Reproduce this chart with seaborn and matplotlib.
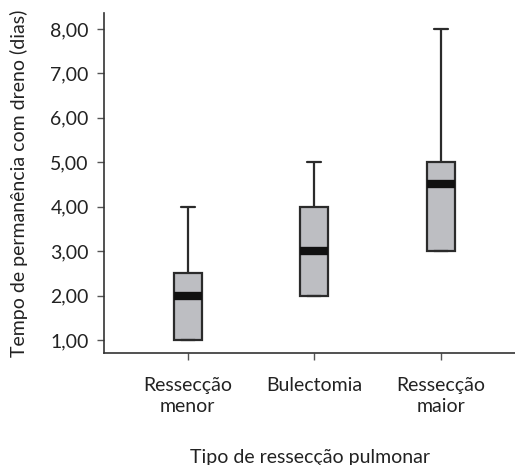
import numpy as np
import pandas as pd
import matplotlib
matplotlib.use("Agg")
import matplotlib.pyplot as plt
from matplotlib.ticker import FuncFormatter
import seaborn as sns

# Box statistics (min, Q1, median, Q3, max)
categories = ["Ressecção\nmenor", "Bulectomia", "Ressecção\nmaior"]
mins = [1.0, 2.0, 3.0]
q1s = [1.0, 2.0, 3.0]
medians = [2.0, 3.0, 4.5]
q3s = [2.5, 4.0, 5.0]
maxs = [4.0, 5.0, 8.0]

# five points per group reproduce exactly these quartiles
rows = []
for cat, a, b, c, d, e in zip(categories, mins, q1s, medians, q3s, maxs):
    for v in (a, b, c, d, e):
        rows.append({"tipo": cat, "dias": v})
df = pd.DataFrame(rows)

sns.set_style("white")
plt.rcParams["font.family"] = ["Lato", "DejaVu Sans"]

fig = plt.figure(figsize=(5.15, 4.65), dpi=100)
ax = fig.add_axes([0.202, 0.241, 0.798, 0.731])

edge = "#2b2b2b"
sns.boxplot(data=df, x="tipo", y="dias", order=categories, ax=ax,
            whis=(0, 100), width=0.22, color="#bdbec2", linecolor=edge,
            linewidth=1.6, saturation=1,
            medianprops={"color": "#111111", "linewidth": 6, "solid_capstyle": "butt"},
            boxprops={"edgecolor": edge, "facecolor": "#bdbec2"},
            whiskerprops={"color": edge}, capprops={"color": edge})

ax.set_ylim(0.707, 8.36)
ax.set_xlim(-0.66, 2.585)
ax.set_yticks(range(1, 9))
ax.yaxis.set_major_formatter(FuncFormatter(lambda v, p: f"{v:.2f}".replace(".", ",")))

sns.despine(ax=ax)
for s in ("left", "bottom"):
    ax.spines[s].set_color("#333333")
    ax.spines[s].set_linewidth(1.2)
ax.tick_params(axis="both", which="major", direction="out", length=5, width=1,
               color="#555555", labelsize=14, labelcolor="#222222", pad=6,
               left=True, bottom=True)
ax.tick_params(axis="x", pad=12)
for lbl in ax.get_xticklabels():
    lbl.set_linespacing(1.35)

ax.set_xlabel("Tipo de ressecção pulmonar", fontsize=14, color="#222222", labelpad=24)
ax.set_ylabel("Tempo de permanência com dreno (dias)", fontsize=14, color="#222222", labelpad=16)

fig.savefig("out.png", dpi=100)
